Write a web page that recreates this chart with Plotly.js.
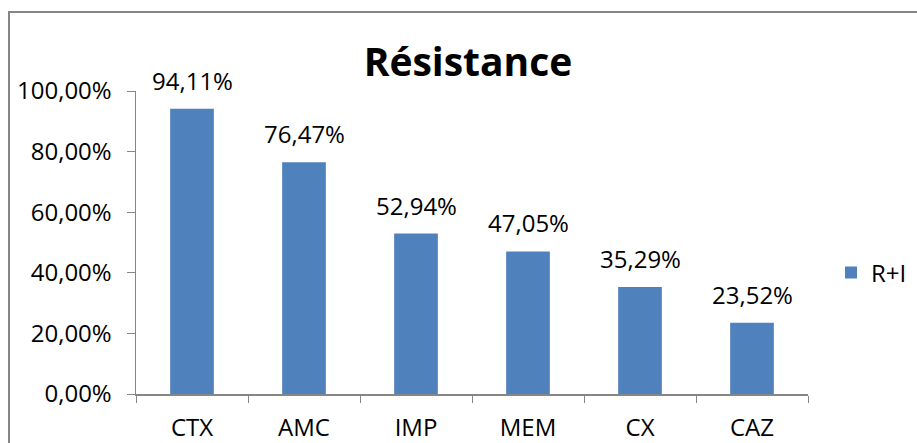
<!DOCTYPE html>
<html><head><meta charset="utf-8">
<script src="https://cdn.plot.ly/plotly-3.0.1.min.js"></script>
<style>body{margin:0;background:#fff}#c{width:917px;height:443px}</style>
</head><body><div id="c"></div>
<script>
const categories = ["CTX","AMC","IMP","MEM","CX","CAZ"];
const values = [0.9411,0.7647,0.5294,0.4705,0.3529,0.2352];
const seriesName = "R+I";
const titleText = "Résistance";
const tickVals = [0,0.2,0.4,0.6,0.8,1.0];

const W=917,H=443,ml=136,mr=109,mt=91,mb=49;
const pw=W-ml-mr, ph=H-mt-mb;
const px=x=>(x-ml)/pw, py=y=>(H-mb-y)/ph;
const font="Open Sans, Liberation Sans, sans-serif";
const fmt=v=>(v*100).toFixed(2).replace('.',',')+'%';

const trace={type:'bar',x:categories,y:values,name:seriesName,
  marker:{color:'#4F81BD',line:{width:0}},width:0.39,showlegend:true,hoverinfo:'none'};

const annotations=categories.map((c,i)=>({x:c,y:values[i],xref:'x',yref:'y',
  text:fmt(values[i]),showarrow:false,yanchor:'bottom',yshift:10,
  font:{family:font,size:24,color:'#000'}}));

const layout={width:W,height:H,margin:{l:ml,r:mr,t:mt,b:mb,autoexpand:false},
  paper_bgcolor:'#fff',plot_bgcolor:'#fff',separators:', ',
  title:{text:'<b>'+titleText+'</b>',font:{family:font,size:39,color:'#000'},
    xref:'container',x:468/W,xanchor:'center',yref:'container',y:1-62/H,yanchor:'middle'},
  xaxis:{type:'category',tickson:'boundaries',ticks:'outside',ticklen:7,tickcolor:'#868686',
    showline:true,linecolor:'#868686',linewidth:1.5,showgrid:false,zeroline:false,automargin:false,
    tickfont:{family:font,size:24,color:'#000'},ticklabelstandoff:12,range:[-0.5,5.5]},
  yaxis:{range:[0,1],tickvals:tickVals,tickformat:'.2%',ticks:'outside',ticklen:8,tickcolor:'#868686',
    showline:true,linecolor:'#868686',linewidth:1.5,showgrid:false,zeroline:false,automargin:false,
    tickfont:{family:font,size:24,color:'#000'},ticklabelstandoff:10},
  legend:{x:px(831),y:py(273),xanchor:'left',yanchor:'middle',font:{family:font,size:24,color:'#000'},
    bgcolor:'rgba(0,0,0,0)',itemwidth:30},
  annotations:annotations,
  shapes:[{type:'rect',xref:'paper',yref:'paper',x0:px(9),x1:px(940),y0:py(470),y1:py(12),
    line:{color:'#868686',width:2},fillcolor:'rgba(0,0,0,0)',layer:'above'}]
};
Plotly.newPlot('c',[trace],layout,{displayModeBar:false,staticPlot:true});
</script></body></html>
